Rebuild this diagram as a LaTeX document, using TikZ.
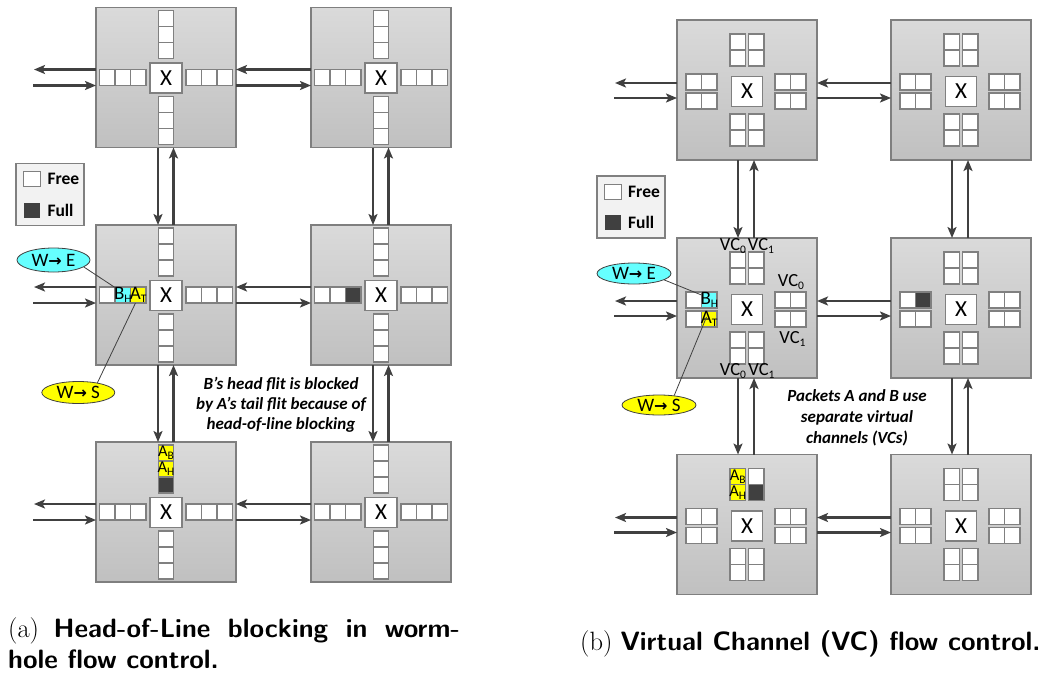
\documentclass[tikz,border=0pt]{standalone}
\usepackage{fontspec}
\newfontfamily\carlito{Carlito}
\newfontfamily\djv{DejaVu Sans}
\usetikzlibrary{arrows.meta,calc,shapes.geometric}

\definecolor{rtop}{HTML}{DADADA}
\definecolor{rbot}{HTML}{C0C0C0}
\definecolor{rborder}{HTML}{7F7F7F}
\definecolor{cborder}{HTML}{808080}
\definecolor{agray}{HTML}{404040}
\definecolor{fullc}{HTML}{404040}
\definecolor{cyanfl}{HTML}{66FFFF}
\definecolor{yelfl}{HTML}{FFFF00}
\definecolor{legfill}{HTML}{F2F2F2}

\newcommand\subs[1]{\raisebox{-0.35ex}{\fontsize{11.5}{11.5}\selectfont #1}}
\newcommand\flowarrow{{\djv\bfseries\fontsize{16}{16}\selectfont →}}

% wormhole router: three-flit buffer per port
\newcommand\whrouter[3]{%
  \node[router] (#1) at (#2,#3) {};
  \node[xbox] (#1x) at (#2,{#3+0.5}) {X};
  \foreach \i in {0,1,2}{
    \draw[cell] ({#2-66.5+15.5*\i},{#3-8}) rectangle ++(15.5,16);
    \draw[cell] ({#2+20+15.5*\i},{#3-8}) rectangle ++(15.5,16);
    \draw[cell] ({#2-7.75},{#3-67+16*\i}) rectangle ++(15.5,16);
    \draw[cell] ({#2-7.75},{#3+19+16*\i}) rectangle ++(15.5,16);
  }}

% virtual-channel router: two two-flit VCs per port
\newcommand\vcrouter[3]{%
  \node[router] (#1) at (#2,#3) {};
  \node[xbox,minimum width=31pt] (#1x) at (#2,{#3+1.5}) {X};
  \foreach \a in {0,1}{
    \foreach \b in {0,1}{
      \draw[cell] ({#2-17+18.5*\a},{#3-56+16*\b}) rectangle ++(15.5,16);
      \draw[cell] ({#2-17+18.5*\a},{#3+24+16*\b}) rectangle ++(15.5,16);
      \draw[cell] ({#2-61+15.5*\b},{#3-16+19*\a}) rectangle ++(15.5,16);
      \draw[cell] ({#2+28+15.5*\b},{#3-16+19*\a}) rectangle ++(15.5,16);
    }}}

\begin{document}
\begin{tikzpicture}[x=1pt,y=-1pt,
  router/.style={draw=rborder,line width=1.3pt,top color=rtop,bottom color=rbot,
    minimum width=140pt,minimum height=140pt,inner sep=0pt,outer sep=0pt},
  xbox/.style={draw=cborder,fill=white,line width=1.1pt,minimum width=32pt,
    minimum height=30pt,inner sep=0pt,font=\carlito\fontsize{23}{23}\selectfont},
  cell/.style={draw=cborder,line width=1.1pt,fill=white},
  arr/.style={draw=agray,line width=2.1pt,-{Stealth[length=11pt,width=9pt,inset=2.5pt]}},
  leader/.style={draw=agray,line width=0.8pt},
  ell/.style={ellipse,draw=agray,line width=0.8pt,inner sep=0pt,
    font=\carlito\fontsize{19}{19}\selectfont},
  lbox/.style={draw=cborder,fill=legfill,line width=1.1pt,minimum width=68pt,
    minimum height=62pt,inner sep=0pt},
  lsq/.style={minimum width=16.5pt,minimum height=15pt,inner sep=0pt,line width=1.1pt},
  ltext/.style={anchor=base west,inner sep=0pt,font=\carlito\bfseries\fontsize{17.5}{17.5}\selectfont},
  ctext/.style={inner sep=0pt,font=\carlito\fontsize{19}{19}\selectfont},
  vclab/.style={anchor=base,inner sep=0pt,font=\carlito\fontsize{18.5}{18.5}\selectfont},
  notetext/.style={anchor=base,inner sep=0pt,font=\carlito\bfseries\itshape\fontsize{17}{17}\selectfont},
  captext/.style={anchor=base west,inner sep=0pt,font=\fontsize{26.5}{32}\selectfont}
]
\useasboundingbox (0,0) rectangle (1044,672);

% ---------------- (a) wormhole mesh ----------------
\whrouter{L11}{166}{77.5}
\whrouter{L12}{381}{77.5}
\whrouter{L21}{166}{295}
\whrouter{L22}{381}{295}
\whrouter{L31}{166}{512}
\whrouter{L32}{381}{512}

% occupied flits
\draw[cell,fill=cyanfl] (115,287) rectangle ++(15.5,16);
\draw[cell,fill=yelfl] (130.5,287) rectangle ++(15.5,16);
\node[ctext] (bhL) at (122.75,295) {B\subs{H}};
\node[ctext] (atL) at (138.25,295) {A\subs{T}};
\draw[cell,fill=fullc] (345.5,287) rectangle ++(15.5,16);
\draw[cell,fill=yelfl] (158.25,445) rectangle ++(15.5,16);
\draw[cell,fill=yelfl] (158.25,461) rectangle ++(15.5,16);
\draw[cell,fill=fullc] (158.25,477) rectangle ++(15.5,16);
\node[ctext,font=\carlito\fontsize{16.5}{16.5}\selectfont] (abL) at (166,453) {A\subs{B}};
\node[ctext,font=\carlito\fontsize{16.5}{16.5}\selectfont] (ahL) at (166,469) {A\subs{H}};

% links
\foreach \r in {1,2,3}{
  \draw[arr] ($(L\r2.west)+(0,-8)$) -- ($(L\r1.east)+(0,-8)$);
  \draw[arr] ($(L\r1.east)+(0,8)$) -- ($(L\r2.west)+(0,8)$);
  \coordinate (Lout\r) at ($(L\r1.west)+(-62,-8)$);
  \coordinate (Lin\r) at ($(L\r1.west)+(-63,8)$);
  \draw[arr] ($(L\r1.west)+(0,-8)$) -- (Lout\r);
  \draw[arr] (Lin\r) -- ($(L\r1.west)+(0,8)$);
}
\foreach \c in {1,2}{
  \foreach \r/\s in {1/2,2/3}{
    \draw[arr] ($(L\r\c.south)+(-8,0)$) -- ($(L\s\c.north)+(-8,0)$);
    \draw[arr] ($(L\s\c.north)+(7.5,0)$) -- ($(L\r\c.south)+(7.5,0)$);
  }}

% legend
\node[lbox] (legL) at (50,194.5) {};
\node[lsq,draw=cborder,fill=white] (freeL) at (32,179.2) {};
\node[lsq,fill=fullc] (fullL) at (32,210) {};
\node[ltext] (freeLt) at (47.3,184.5) {Free};
\node[ltext] (fullLt) at (47.3,216) {Full};

% packet routes
\node[ell,fill=cyanfl,minimum width=73pt,minimum height=24pt] (weL) at (53.5,260) {W\flowarrow\ E};
\node[ell,fill=yelfl,minimum width=73pt,minimum height=22pt] (wsL) at (78.3,392.5) {W\flowarrow\ S};
\coordinate (bhLc) at (115,287.5);
\coordinate (atLc) at (135.5,303);
\draw[leader] (weL.-13) -- (bhLc);
\draw[leader] (wsL.27) -- (atLc);

\node[notetext] (nL1) at (281,389) {B’s head flit is blocked};
\node[notetext] (nL2) at (281,409.3) {by A’s tail flit because of};
\node[notetext] (nL3) at (281,429.6) {head-of-line blocking};

% ---------------- (b) virtual-channel mesh ----------------
\vcrouter{R11}{747}{90}
\vcrouter{R12}{961}{90}
\vcrouter{R21}{747}{308}
\vcrouter{R22}{961}{308}
\vcrouter{R31}{747}{524.5}
\vcrouter{R32}{961}{524.5}

% occupied flits
\draw[cell,fill=cyanfl] (701.5,292) rectangle ++(15.5,16);
\draw[cell,fill=yelfl] (701.5,311) rectangle ++(15.5,16);
\node[ctext] (bhR) at (709.25,300) {B\subs{H}};
\node[ctext] (atR) at (709.25,319) {A\subs{T}};
\draw[cell,fill=fullc] (915.5,292) rectangle ++(15.5,16);
\draw[cell,fill=yelfl] (730,468.5) rectangle ++(15.5,16);
\draw[cell,fill=yelfl] (730,484.5) rectangle ++(15.5,16);
\draw[cell,fill=fullc] (748.5,484.5) rectangle ++(15.5,16);
\node[ctext,font=\carlito\fontsize{16.5}{16.5}\selectfont] (abR) at (737.75,476.5) {A\subs{B}};
\node[ctext,font=\carlito\fontsize{16.5}{16.5}\selectfont] (ahR) at (737.75,492.5) {A\subs{H}};

% VC labels
\node[vclab] (vcn0) at (733,250) {VC\subs{0}};
\node[vclab] (vcn1) at (761,250) {VC\subs{1}};
\node[vclab] (vce0) at (791,286) {VC\subs{0}};
\node[vclab] (vce1) at (792.5,343) {VC\subs{1}};
\node[vclab] (vcs0) at (733,375.5) {VC\subs{0}};
\node[vclab] (vcs1) at (761.5,375.5) {VC\subs{1}};

% links
\foreach \r in {1,2,3}{
  \draw[arr] ($(R\r2.west)+(0,-7)$) -- ($(R\r1.east)+(0,-7)$);
  \draw[arr] ($(R\r1.east)+(0,8)$) -- ($(R\r2.west)+(0,8)$);
  \coordinate (Rout\r) at ($(R\r1.west)+(-62,-7)$);
  \coordinate (Rin\r) at ($(R\r1.west)+(-63,8)$);
  \draw[arr] ($(R\r1.west)+(0,-7)$) -- (Rout\r);
  \draw[arr] (Rin\r) -- ($(R\r1.west)+(0,8)$);
}
\foreach \c in {1,2}{
  \foreach \r/\s in {1/2,2/3}{
    \draw[arr] ($(R\r\c.south)+(-9,0)$) -- ($(R\s\c.north)+(-9,0)$);
    \draw[arr] ($(R\s\c.north)+(7,0)$) -- ($(R\r\c.south)+(7,0)$);
  }}

% legend
\node[lbox] (legR) at (631,207) {};
\node[lsq,draw=cborder,fill=white] (freeR) at (613,192) {};
\node[lsq,fill=fullc] (fullR) at (613,222) {};
\node[ltext] (freeRt) at (628,197) {Free};
\node[ltext] (fullRt) at (628,228) {Full};

% packet routes
\node[ell,fill=cyanfl,minimum width=74pt,minimum height=21pt] (weR) at (634,273.5) {W\flowarrow\ E};
\node[ell,fill=yelfl,minimum width=74pt,minimum height=20pt] (wsR) at (659,405) {W\flowarrow\ S};
\coordinate (bhRc) at (701.5,295);
\coordinate (atRc) at (706.5,317);
\draw[leader] (weR.-12) -- (bhRc);
\draw[leader] (wsR.32) -- (atRc);

\node[notetext] (nR1) at (857,401) {Packets A and B use};
\node[notetext] (nR2) at (857,422) {separate virtual};
\node[notetext] (nR3) at (857,443) {channels (VCs)};

% ---------------- captions ----------------
\node[captext] (capA1) at (8,637) {\makebox[452pt][s]{(a) {\sffamily\bfseries Head-of-Line blocking in worm-}}};
\node[captext] (capA2) at (8,668) {{\sffamily\bfseries hole flow control.}};
\node[captext] (capB) at (580,650) {(b) {\sffamily\bfseries Virtual Channel (VC) flow control.}};
\end{tikzpicture}
\end{document}
